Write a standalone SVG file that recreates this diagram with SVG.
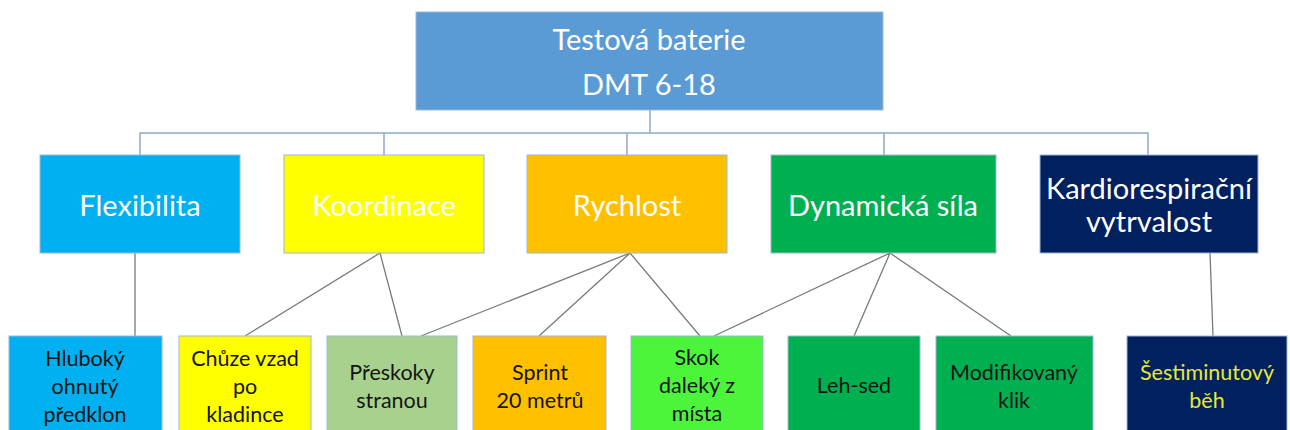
<svg xmlns="http://www.w3.org/2000/svg" width="1290" height="430" viewBox="0 0 1290 430">
<style>
.box{stroke:#9fb6d6;stroke-width:1}
.t{font-family:Lato,"Open Sans","Liberation Sans",sans-serif;text-anchor:middle;dominant-baseline:central}
.w{fill:#ffffff;font-size:29px}
.d{fill:#141414;font-size:21.5px}
.top{stroke:#8ea9cf;stroke-width:1.5;fill:none}
.c{stroke:#7a7a7a;stroke-width:1.3;fill:none}
</style>
<rect width="1290" height="430" fill="#ffffff"/>
<g id="connectors">
<path class="top" d="M650 110V133M140 155V133H1148V155M384 133V155M627 133V155M884 133V155"/>
<path class="c" d="M135 253V336M380 253L245 336M380 253L402 336M630 253L421 336M630 253L539 336M630 253L700 336M890 253L714 336M890 253L854 336M890 253L1011 336M1210 253L1213 336"/>
</g>
<g id="root"><rect class="box" x="416" y="12" width="467" height="98" fill="#5b9bd5"/>
<text class="t w" x="649" y="38">Testová baterie</text><text class="t w" x="649" y="83">DMT 6-18</text></g>
<g id="flexibilita"><rect class="box" x="40" y="155" width="200" height="98" fill="#00b0f0"/><text class="t w" x="140" y="204">Flexibilita</text></g>
<g id="koordinace"><rect class="box" x="284" y="155" width="200" height="98" fill="#ffff00"/><text class="t w" x="384" y="204">Koordinace</text></g>
<g id="rychlost"><rect class="box" x="527" y="155" width="200" height="98" fill="#ffc000"/><text class="t w" x="627" y="204">Rychlost</text></g>
<g id="dynamicka"><rect class="box" x="771" y="155" width="225" height="98" fill="#00b050"/><text class="t w" x="883" y="204">Dynamická síla</text></g>
<g id="kardio"><rect class="box" x="1040" y="155" width="218" height="98" fill="#002060"/><text class="t w" x="1149" y="187">Kardiorespirační</text><text class="t w" x="1149" y="220">vytrvalost</text></g>
<g id="hluboky"><rect class="box" x="9" y="336" width="153" height="100" fill="#00b0f0"/><text class="t d" x="85" y="358">Hluboký</text><text class="t d" x="85" y="386">ohnutý</text><text class="t d" x="85" y="414">předklon</text></g>
<g id="chuze"><rect class="box" x="179" y="336" width="132" height="100" fill="#ffff00"/><text class="t d" x="245" y="358">Chůze vzad</text><text class="t d" x="245" y="386">po</text><text class="t d" x="245" y="414">kladince</text></g>
<g id="preskoky"><rect class="box" x="327" y="336" width="130" height="100" fill="#a9d18e"/><text class="t d" x="392" y="372">Přeskoky</text><text class="t d" x="392" y="400">stranou</text></g>
<g id="sprint"><rect class="box" x="473" y="336" width="133" height="100" fill="#ffc000"/><text class="t d" x="540" y="372">Sprint</text><text class="t d" x="540" y="400">20 metrů</text></g>
<g id="skok"><rect class="box" x="631" y="336" width="132" height="100" fill="#4cf53c"/><text class="t d" x="697" y="357">Skok</text><text class="t d" x="697" y="385">daleký z</text><text class="t d" x="697" y="413">místa</text></g>
<g id="lehsed"><rect class="box" x="788" y="336" width="132" height="100" fill="#00b050"/><text class="t d" x="854" y="385">Leh-sed</text></g>
<g id="modifikovany"><rect class="box" x="936" y="336" width="157" height="100" fill="#00b050"/><text class="t d" x="1014" y="372">Modifikovaný</text><text class="t d" x="1014" y="400">klik</text></g>
<g id="sestiminutovy"><rect class="box" x="1127" y="336" width="160" height="100" fill="#002060"/><text class="t d" x="1207" y="372" style="fill:#e8e830">Šestiminutový</text><text class="t d" x="1207" y="400" style="fill:#e8e830">běh</text></g>
</svg>
